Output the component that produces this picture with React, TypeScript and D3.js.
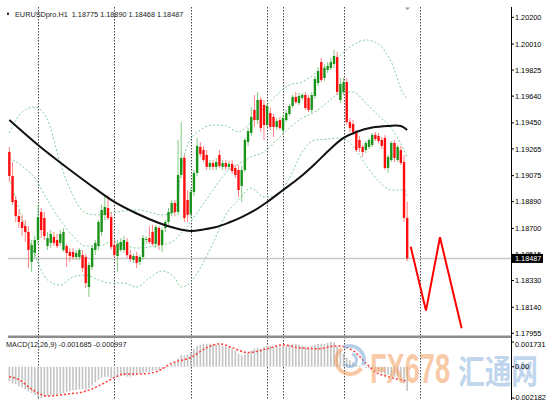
import { useEffect, useRef } from "react";
import * as d3 from "d3";

const W = 556;
const H = 400;

// EURUSDpro H1 candles (oldest -> newest)
const opens = [
  1.19243, 1.19073, 1.18902, 1.18788, 1.18746, 1.18717, 1.18675, 1.18462, 1.18526, 1.18618,
  1.18817, 1.18774, 1.18575, 1.18597, 1.18639, 1.18618, 1.18597, 1.18547, 1.18575, 1.18533,
  1.18533, 1.18497, 1.18497, 1.18511, 1.18497, 1.18284, 1.18426, 1.18547, 1.18575, 1.18675,
  1.18796, 1.18845, 1.18781, 1.18582, 1.18504, 1.18547, 1.18547, 1.18604, 1.18511, 1.18476,
  1.18504, 1.18462, 1.18497, 1.18618, 1.18632, 1.18675, 1.1859, 1.18703, 1.18582, 1.18703,
  1.18746, 1.1881, 1.18881, 1.18817, 1.1908, 1.19201, 1.18902, 1.18803, 1.18959, 1.19094,
  1.19279, 1.19257, 1.19222, 1.19137, 1.19165, 1.19137, 1.19222, 1.19137, 1.19165, 1.19137,
  1.19158, 1.19129, 1.19115, 1.19002, 1.19115, 1.19314, 1.19378, 1.19542, 1.1947, 1.19613,
  1.19577, 1.19435, 1.1952, 1.19492, 1.19421, 1.1947, 1.19399, 1.1947, 1.19513, 1.1957,
  1.19634, 1.19591, 1.19627, 1.19648, 1.19627, 1.19542, 1.19641, 1.19733, 1.19882, 1.19769,
  1.19826, 1.1984, 1.19868, 1.19918, 1.19613, 1.19669, 1.1974, 1.19456, 1.19442, 1.19378,
  1.19328, 1.19279, 1.19257, 1.19279, 1.19293, 1.19364, 1.19357, 1.19328, 1.19343, 1.19129,
  1.19186, 1.19307, 1.19186, 1.19257, 1.19172, 1.18775,
];
const highs = [
  1.19279, 1.19172, 1.18931, 1.18831, 1.18796, 1.1876, 1.18717, 1.18618, 1.18646, 1.18867,
  1.18845, 1.18817, 1.18675, 1.18689, 1.18675, 1.18661, 1.18689, 1.18703, 1.1859, 1.18561,
  1.18561, 1.18547, 1.18561, 1.18547, 1.18518, 1.18462, 1.18582, 1.18618, 1.1876, 1.18867,
  1.18938, 1.18938, 1.18817, 1.18618, 1.18618, 1.18632, 1.18646, 1.18632, 1.18547, 1.18518,
  1.18533, 1.18511, 1.18654, 1.18646, 1.18717, 1.18725, 1.18725, 1.18717, 1.18703, 1.1876,
  1.18845, 1.18902, 1.18902, 1.19328, 1.19456, 1.19222, 1.18973, 1.18987, 1.19115, 1.19343,
  1.19314, 1.19286, 1.19257, 1.19186, 1.19186, 1.19201, 1.19257, 1.19186, 1.19186, 1.19179,
  1.19186, 1.19151, 1.19151, 1.19144, 1.19343, 1.19414, 1.19563, 1.19648, 1.19669, 1.19634,
  1.19613, 1.19591, 1.19556, 1.19513, 1.19485, 1.19492, 1.19506, 1.19542, 1.19584, 1.19648,
  1.19669, 1.19662, 1.19662, 1.19669, 1.19648, 1.19669, 1.19783, 1.19847, 1.19911, 1.19868,
  1.19882, 1.19911, 1.19968, 1.19954, 1.19769, 1.19769, 1.19769, 1.19485, 1.1947, 1.19399,
  1.19357, 1.19293, 1.19321, 1.19343, 1.19378, 1.19385, 1.19378, 1.1935, 1.19364, 1.19222,
  1.19321, 1.19328, 1.19293, 1.19286, 1.19222, 1.1889,
];
const lows = [
  1.1903, 1.18867, 1.18746, 1.18703, 1.18646, 1.18604, 1.18419, 1.18391, 1.1849, 1.18582,
  1.18632, 1.18618, 1.18547, 1.18561, 1.18575, 1.18561, 1.18575, 1.18533, 1.18426, 1.18462,
  1.18476, 1.18476, 1.18476, 1.18391, 1.18277, 1.18213, 1.18405, 1.18511, 1.18547, 1.18646,
  1.1876, 1.1876, 1.18547, 1.1849, 1.18391, 1.18533, 1.18526, 1.1849, 1.18462, 1.18455,
  1.18419, 1.1844, 1.18476, 1.1859, 1.1859, 1.18575, 1.18561, 1.18547, 1.18533, 1.18675,
  1.18725, 1.18788, 1.18788, 1.18796, 1.19058, 1.18746, 1.18746, 1.18774, 1.18931, 1.19073,
  1.19208, 1.19172, 1.19115, 1.19115, 1.19115, 1.19115, 1.19129, 1.19115, 1.19115, 1.19115,
  1.19087, 1.19058, 1.18923, 1.18888, 1.19101, 1.19286, 1.19357, 1.19421, 1.19442, 1.19385,
  1.19328, 1.19421, 1.19399, 1.1935, 1.19399, 1.19399, 1.19364, 1.19456, 1.19499, 1.19556,
  1.19584, 1.19577, 1.19613, 1.19542, 1.19527, 1.1952, 1.1962, 1.19712, 1.1974, 1.19748,
  1.19804, 1.19826, 1.1984, 1.19648, 1.19591, 1.19648, 1.19435, 1.19385, 1.19364, 1.19243,
  1.19243, 1.19208, 1.19236, 1.19264, 1.19279, 1.19321, 1.19307, 1.19264, 1.19115, 1.19094,
  1.19172, 1.19172, 1.19172, 1.19151, 1.18746, 1.18468,
];
const closes = [
  1.19073, 1.18888, 1.18788, 1.18746, 1.18703, 1.18675, 1.18547, 1.18582, 1.18618, 1.18781,
  1.18689, 1.18646, 1.18632, 1.18661, 1.18597, 1.18575, 1.18661, 1.18675, 1.18526, 1.18504,
  1.18497, 1.18526, 1.18547, 1.18419, 1.18312, 1.1844, 1.18561, 1.18597, 1.18746, 1.18831,
  1.18852, 1.18774, 1.18568, 1.18511, 1.1859, 1.18604, 1.18618, 1.18511, 1.18483, 1.18504,
  1.18455, 1.18497, 1.18632, 1.18625, 1.18604, 1.1859, 1.1871, 1.18582, 1.18689, 1.18746,
  1.18817, 1.18881, 1.18817, 1.1908, 1.19201, 1.18774, 1.18796, 1.18959, 1.19094, 1.19286,
  1.19229, 1.19186, 1.19137, 1.19165, 1.19137, 1.19172, 1.19144, 1.19165, 1.19137, 1.19158,
  1.19108, 1.1908, 1.18973, 1.19115, 1.19328, 1.19392, 1.19492, 1.1947, 1.19613, 1.19414,
  1.19435, 1.1957, 1.19421, 1.19421, 1.19463, 1.19414, 1.19485, 1.1952, 1.1957, 1.19634,
  1.19598, 1.19641, 1.19648, 1.19556, 1.19542, 1.19648, 1.19762, 1.19819, 1.19755, 1.1984,
  1.19854, 1.19882, 1.19925, 1.19669, 1.19726, 1.1974, 1.19456, 1.19414, 1.19385, 1.19257,
  1.19272, 1.19243, 1.19307, 1.19328, 1.19364, 1.19335, 1.19321, 1.19286, 1.19129, 1.19208,
  1.19307, 1.19201, 1.19279, 1.19165, 1.18775, 1.18487,
];

const priceTicks = [
  1.202, 1.2001, 1.19825, 1.1964, 1.1945, 1.19265, 1.19075, 1.1889, 1.187, 1.18515, 1.1833,
  1.1814, 1.17955,
];

// day separators (bar index)
const separatorBars = [9, 33, 57, 81, 86, 105, 129];

// black moving average
const maBars = [0, 9, 17, 25, 33, 40, 47, 52, 57, 61, 65, 69, 73, 77, 81, 86, 91, 96, 101, 105, 109, 114, 119, 123, 125];
const maValues = [
  1.1947, 1.19293, 1.19151, 1.19016, 1.18888, 1.18806, 1.18739, 1.18703, 1.18682, 1.18693,
  1.1871, 1.18742, 1.18781, 1.18828, 1.18888, 1.18973, 1.19058, 1.19158, 1.19268, 1.19343,
  1.19385, 1.19417, 1.19428, 1.19428, 1.19399,
];

// bollinger bands
const bandBars = [0, 4, 8, 12, 16, 20, 24, 28, 32, 36, 40, 44, 48, 52, 54, 56, 60, 64, 68, 72, 76, 80, 84, 88, 92, 96, 100, 104, 108, 112, 116, 120, 124, 125];
const bandUpper = [
  1.19378, 1.19527, 1.19563, 1.1947, 1.19165, 1.18931, 1.1881, 1.18796, 1.1881, 1.18824,
  1.18831, 1.18817, 1.18796, 1.18817, 1.19115, 1.19293, 1.19399, 1.19435, 1.19428, 1.19385,
  1.19456, 1.19556, 1.19648, 1.19719, 1.1974, 1.19797, 1.19861, 1.19932, 1.20003, 1.20039,
  1.2001, 1.19882, 1.19648, 1.19627,
];
const bandMiddle = [
  1.19201, 1.19144, 1.19058, 1.18902, 1.1876, 1.18646, 1.18575, 1.18575, 1.18604, 1.18582,
  1.18561, 1.18568, 1.18582, 1.18618, 1.18668, 1.18717, 1.18845, 1.18973, 1.19094, 1.19158,
  1.19208, 1.19243, 1.19328, 1.19414, 1.19485, 1.19527, 1.19598, 1.19662, 1.19669, 1.19591,
  1.19499, 1.19414, 1.19257, 1.19208,
];
const bandLower = [
  1.19058, 1.18774, 1.18511, 1.18334, 1.18298, 1.18355, 1.18369, 1.18334, 1.18312, 1.18312,
  1.18284, 1.18348, 1.18398, 1.18348, 1.18284, 1.18298, 1.18419, 1.18597, 1.18796, 1.18902,
  1.18987, 1.18923, 1.18938, 1.19058, 1.19243, 1.19328, 1.19335, 1.19343, 1.19286, 1.19151,
  1.19037, 1.18973, 1.18973, 1.18923,
];

// hand drawn forecast path
const forecastBars = [126.1, 130.9, 135.3, 142.1];
const forecastPrices = [1.1857, 1.18116, 1.18637, 1.17991];

// MACD(12,26,9)
const macdMain = [
  -0.00103, -0.00117, -0.00123, -0.00137, -0.00144, -0.00157, -0.00171, -0.00184, -0.00198, -0.00211,
  -0.002182, -0.00211, -0.00204, -0.00198, -0.00198, -0.00191, -0.00191, -0.00184, -0.00177, -0.00171,
  -0.00164, -0.00164, -0.00157, -0.00157, -0.00164, -0.0015, -0.0013, -0.0011, -0.0009, -0.00076,
  -0.00069, -0.00069, -0.00076, -0.00076, -0.00069, -0.00063, -0.00063, -0.00069, -0.00069, -0.00063,
  -0.00056, -0.00049, -0.00043, -0.00036, -0.00036, -0.00029, -0.00022, -0.00022, -0.00016, -0.00009,
  0.00005, 0.00018, 0.00032, 0.00059, 0.00079, 0.00079, 0.00086, 0.00099, 0.00126, 0.00146,
  0.00153, 0.0016, 0.0016, 0.0016, 0.0016, 0.00153, 0.00153, 0.00146, 0.0014, 0.00133,
  0.00126, 0.00113, 0.00092, 0.00079, 0.00086, 0.00099, 0.00113, 0.00126, 0.00133, 0.00126,
  0.0014, 0.00146, 0.00146, 0.0014, 0.0014, 0.0014, 0.00146, 0.00146, 0.00153, 0.0016,
  0.0016, 0.00153, 0.00146, 0.0014, 0.0014, 0.00146, 0.00153, 0.0016, 0.0016, 0.0016,
  0.00167, 0.001731, 0.0017, 0.0014, 0.00113, 0.00092, 0.00065, 0.00045, 0.00032, 0.00018,
  0.00005, -0.00002, -0.00009, -0.00009, -0.00016, -0.00022, -0.00029, -0.00043, -0.00056, -0.00056,
  -0.00063, -0.00069, -0.00069, -0.00076, -0.00117, -0.001685,
];
const signalBars = [0, 3, 7, 12, 18, 24, 29, 33, 36, 41, 46, 51, 57, 62, 66, 70, 75, 81, 86, 91, 97, 103, 108, 112, 115, 119, 125];
const signalValues = [
  -0.00069, -0.0009, -0.00157, -0.00204, -0.00191, -0.00171, -0.00123, -0.00076, -0.0005, -0.0005,
  -0.00036, 0.00025, 0.00065, 0.00133, 0.0016, 0.00133, 0.00099, 0.00126, 0.00153, 0.00133,
  0.00126, 0.00146, 0.00113, 0.00025, -0.00036, -0.00069, -0.000997,
];
const macdTicks = [0.001731, 0, -0.002182];
const macdTickLabels = ["0.001731", "0.00", "-0.002182"];

const App = () => {
  const ref = useRef<SVGSVGElement>(null);

  useEffect(() => {
    if (!ref.current) return;
    const svg = d3.select(ref.current);
    svg.selectAll("*").remove();

    const font = "'Liberation Sans', Arial, sans-serif";
    const left = 8;
    const axisX = 511;
    const top = 7;
    const mainBottom = 335;
    const n = closes.length;

    const x = d3.scaleLinear().domain([0, 125]).range([9.35, 407.2]);
    const y = d3.scaleLinear().domain([1.17955, 1.202]).range([333.3, 17.3]);
    const my = d3.scaleLinear().domain([-0.002182, 0.001731]).range([398, 342]);

    svg.append("rect").attr("width", W).attr("height", H).attr("fill", "#fff");

    const defs = svg.append("defs");
    defs
      .append("clipPath")
      .attr("id", "main-clip")
      .append("rect")
      .attr("x", left)
      .attr("y", top)
      .attr("width", axisX - left)
      .attr("height", mainBottom - top);

    // period separators
    svg
      .append("g")
      .selectAll("line")
      .data(separatorBars)
      .join("line")
      .attr("x1", (d: number) => Math.round(x(d)) + 0.5)
      .attr("x2", (d: number) => Math.round(x(d)) + 0.5)
      .attr("y1", top)
      .attr("y2", H)
      .attr("stroke", "#444")
      .attr("stroke-width", 1)
      .attr("stroke-dasharray", "1.5,1.5");

    const lastPrice = closes[n - 1];
    svg
      .append("line")
      .attr("x1", left)
      .attr("x2", axisX)
      .attr("y1", y(lastPrice))
      .attr("y2", y(lastPrice))
      .attr("stroke", "#c8c8c8")
      .attr("stroke-width", 1.5);

    const main = svg.append("g").attr("clip-path", "url(#main-clip)");

    // bollinger bands
    [bandUpper, bandMiddle, bandLower].forEach((band) => {
      const line = d3
        .line<number>()
        .x((_d: number, i: number) => x(bandBars[i]))
        .y((d: number) => y(d))
        .curve(d3.curveMonotoneX);
      main
        .append("path")
        .attr("d", line(band))
        .attr("fill", "none")
        .attr("stroke", "#7fcf9a")
        .attr("stroke-width", 1)
        .attr("stroke-dasharray", "2,2");
    });

    // candles
    const idx = d3.range(n);
    const up = (i: number) => closes[i] >= opens[i];
    main
      .append("g")
      .selectAll("line")
      .data(idx)
      .join("line")
      .attr("x1", (i: number) => x(i))
      .attr("x2", (i: number) => x(i))
      .attr("y1", (i: number) => y(highs[i]))
      .attr("y2", (i: number) => y(lows[i]))
      .attr("stroke", (i: number) => (up(i) ? "#5cb85c" : "#ff5a5a"))
      .attr("stroke-width", 1)
      .attr("opacity", 0.75);

    main
      .append("g")
      .selectAll("rect")
      .data(idx)
      .join("rect")
      .attr("x", (i: number) => x(i) - 1.2)
      .attr("width", 2.4)
      .attr("y", (i: number) => y(Math.max(opens[i], closes[i])))
      .attr("height", (i: number) =>
        Math.max(1, Math.abs(y(opens[i]) - y(closes[i])))
      )
      .attr("fill", (i: number) => (up(i) ? "#1b931b" : "#ff0d0d"));

    // moving average
    const maLine = d3
      .line<number>()
      .x((_d: number, i: number) => x(maBars[i]))
      .y((d: number) => y(d))
      .curve(d3.curveCatmullRom.alpha(0.5));
    main
      .append("path")
      .attr("d", maLine(maValues))
      .attr("fill", "none")
      .attr("stroke", "#111")
      .attr("stroke-width", 2);

    // forecast path
    const fLine = d3
      .line<number>()
      .x((_d: number, i: number) => x(forecastBars[i]))
      .y((d: number) => y(d));
    main
      .append("path")
      .attr("d", fLine(forecastPrices))
      .attr("fill", "none")
      .attr("stroke", "#ff0000")
      .attr("stroke-width", 2);

    // panel separator
    svg
      .append("rect")
      .attr("x", left)
      .attr("y", 335.5)
      .attr("width", axisX - left)
      .attr("height", 2.5)
      .attr("fill", "#8c8c8c");

    // MACD histogram
    svg
      .append("g")
      .selectAll("rect")
      .data(macdMain)
      .join("rect")
      .attr("x", (_d: number, i: number) => x(i) - 0.8)
      .attr("width", 1.6)
      .attr("y", (d: number) => Math.min(my(0), my(d)))
      .attr("height", (d: number) => Math.abs(my(d) - my(0)))
      .attr("fill", "#c4c4c4");

    const sLine = d3
      .line<number>()
      .x((_d: number, i: number) => x(signalBars[i]))
      .y((d: number) => my(d))
      .curve(d3.curveMonotoneX);
    svg
      .append("path")
      .attr("d", sLine(signalValues))
      .attr("fill", "none")
      .attr("stroke", "#ff3b3b")
      .attr("stroke-width", 1.5)
      .attr("stroke-dasharray", "2,2");

    // watermark
    const wm = svg.append("g").attr("opacity", 0.55);
    const arc = d3.arc();
    const logo = wm.append("g").attr("transform", "translate(350,360)");
    logo
      .append("path")
      .attr("d", arc({ innerRadius: 12, outerRadius: 16, startAngle: Math.PI * 0.7, endAngle: Math.PI * 1.8 }) as string)
      .attr("fill", "#f39a5a");
    logo
      .append("path")
      .attr("d", arc({ innerRadius: 12, outerRadius: 16, startAngle: -Math.PI * 0.15, endAngle: Math.PI * 0.62 }) as string)
      .attr("fill", "#7aa9d8");
    logo
      .append("path")
      .attr("d", arc({ innerRadius: 5, outerRadius: 8, startAngle: Math.PI * 0.1, endAngle: Math.PI * 1.3 }) as string)
      .attr("fill", "#7aa9d8");
    wm.append("text")
      .attr("x", 370)
      .attr("y", 383)
      .attr("textLength", 80)
      .attr("lengthAdjust", "spacingAndGlyphs")
      .style("font-family", font)
      .style("font-weight", "bold")
      .style("font-size", "42px")
      .attr("fill", "#f5a062")
      .text("FX678");
    wm.append("text")
      .attr("x", 458)
      .attr("y", 384)
      .attr("textLength", 80)
      .attr("lengthAdjust", "spacingAndGlyphs")
      .style("font-family", "'Noto Sans CJK SC', sans-serif")
      .style("font-weight", "bold")
      .style("font-size", "34px")
      .attr("fill", "#8fb6df")
      .text("汇通网");

    // right axis
    svg
      .append("line")
      .attr("x1", axisX + 0.5)
      .attr("x2", axisX + 0.5)
      .attr("y1", top)
      .attr("y2", H)
      .attr("stroke", "#000")
      .attr("stroke-width", 1);

    const ticks = svg.append("g");
    priceTicks.forEach((v) => {
      ticks
        .append("line")
        .attr("x1", axisX)
        .attr("x2", axisX + 3)
        .attr("y1", y(v))
        .attr("y2", y(v))
        .attr("stroke", "#000");
      ticks
        .append("text")
        .attr("x", 515)
        .attr("y", y(v) + 2.6)
        .style("font-family", font)
        .style("font-size", "7.3px")
        .attr("fill", "#000")
        .text(v.toFixed(5));
    });
    macdTicks.forEach((v, i) => {
      ticks
        .append("line")
        .attr("x1", axisX)
        .attr("x2", axisX + 3)
        .attr("y1", my(v))
        .attr("y2", my(v))
        .attr("stroke", "#000");
      ticks
        .append("text")
        .attr("x", v < 0 ? 513 : 515)
        .attr("y", Math.min(399.5, Math.max(347, my(v) + 2.6)))
        .style("font-family", font)
        .style("font-size", "7.3px")
        .attr("fill", "#000")
        .text(macdTickLabels[i]);
    });

    // last price box
    svg
      .append("rect")
      .attr("x", 512)
      .attr("y", y(lastPrice) - 4.5)
      .attr("width", 31)
      .attr("height", 9)
      .attr("fill", "#000");
    svg
      .append("text")
      .attr("x", 515)
      .attr("y", y(lastPrice) + 2.6)
      .style("font-family", font)
      .style("font-size", "7.3px")
      .attr("fill", "#fff")
      .text(lastPrice.toFixed(5));

    // titles
    svg
      .append("rect")
      .attr("x", 7)
      .attr("y", 12.5)
      .attr("width", 2)
      .attr("height", 2.5)
      .attr("fill", "#333");
    svg
      .append("text")
      .attr("x", 15)
      .attr("y", 16.5)
      .style("font-family", font)
      .style("font-size", "7.3px")
      .attr("fill", "#222")
      .attr("xml:space", "preserve")
      .text(
        `EURUSDpro.H1  ${opens[n - 1].toFixed(5)} ${highs[n - 1].toFixed(5)} ${lows[n - 1].toFixed(5)} ${closes[n - 1].toFixed(5)}`
      );
    svg
      .append("text")
      .attr("x", 6)
      .attr("y", 347)
      .style("font-family", font)
      .style("font-size", "7.3px")
      .attr("fill", "#222")
      .text(
        `MACD(12,26,9) ${macdMain[n - 1].toFixed(6)} ${signalValues[signalValues.length - 1].toFixed(6)}`
      );
    svg
      .append("path")
      .attr("d", "M405,7.5 L410,7.5 L407.5,10 Z")
      .attr("fill", "#999");

    return () => {
      svg.selectAll("*").remove();
    };
  }, []);

  return (
    <svg
      ref={ref}
      width={W}
      height={H}
      style={{ position: "absolute", left: 0, top: 0, display: "block" }}
    />
  );
};

export default App;
